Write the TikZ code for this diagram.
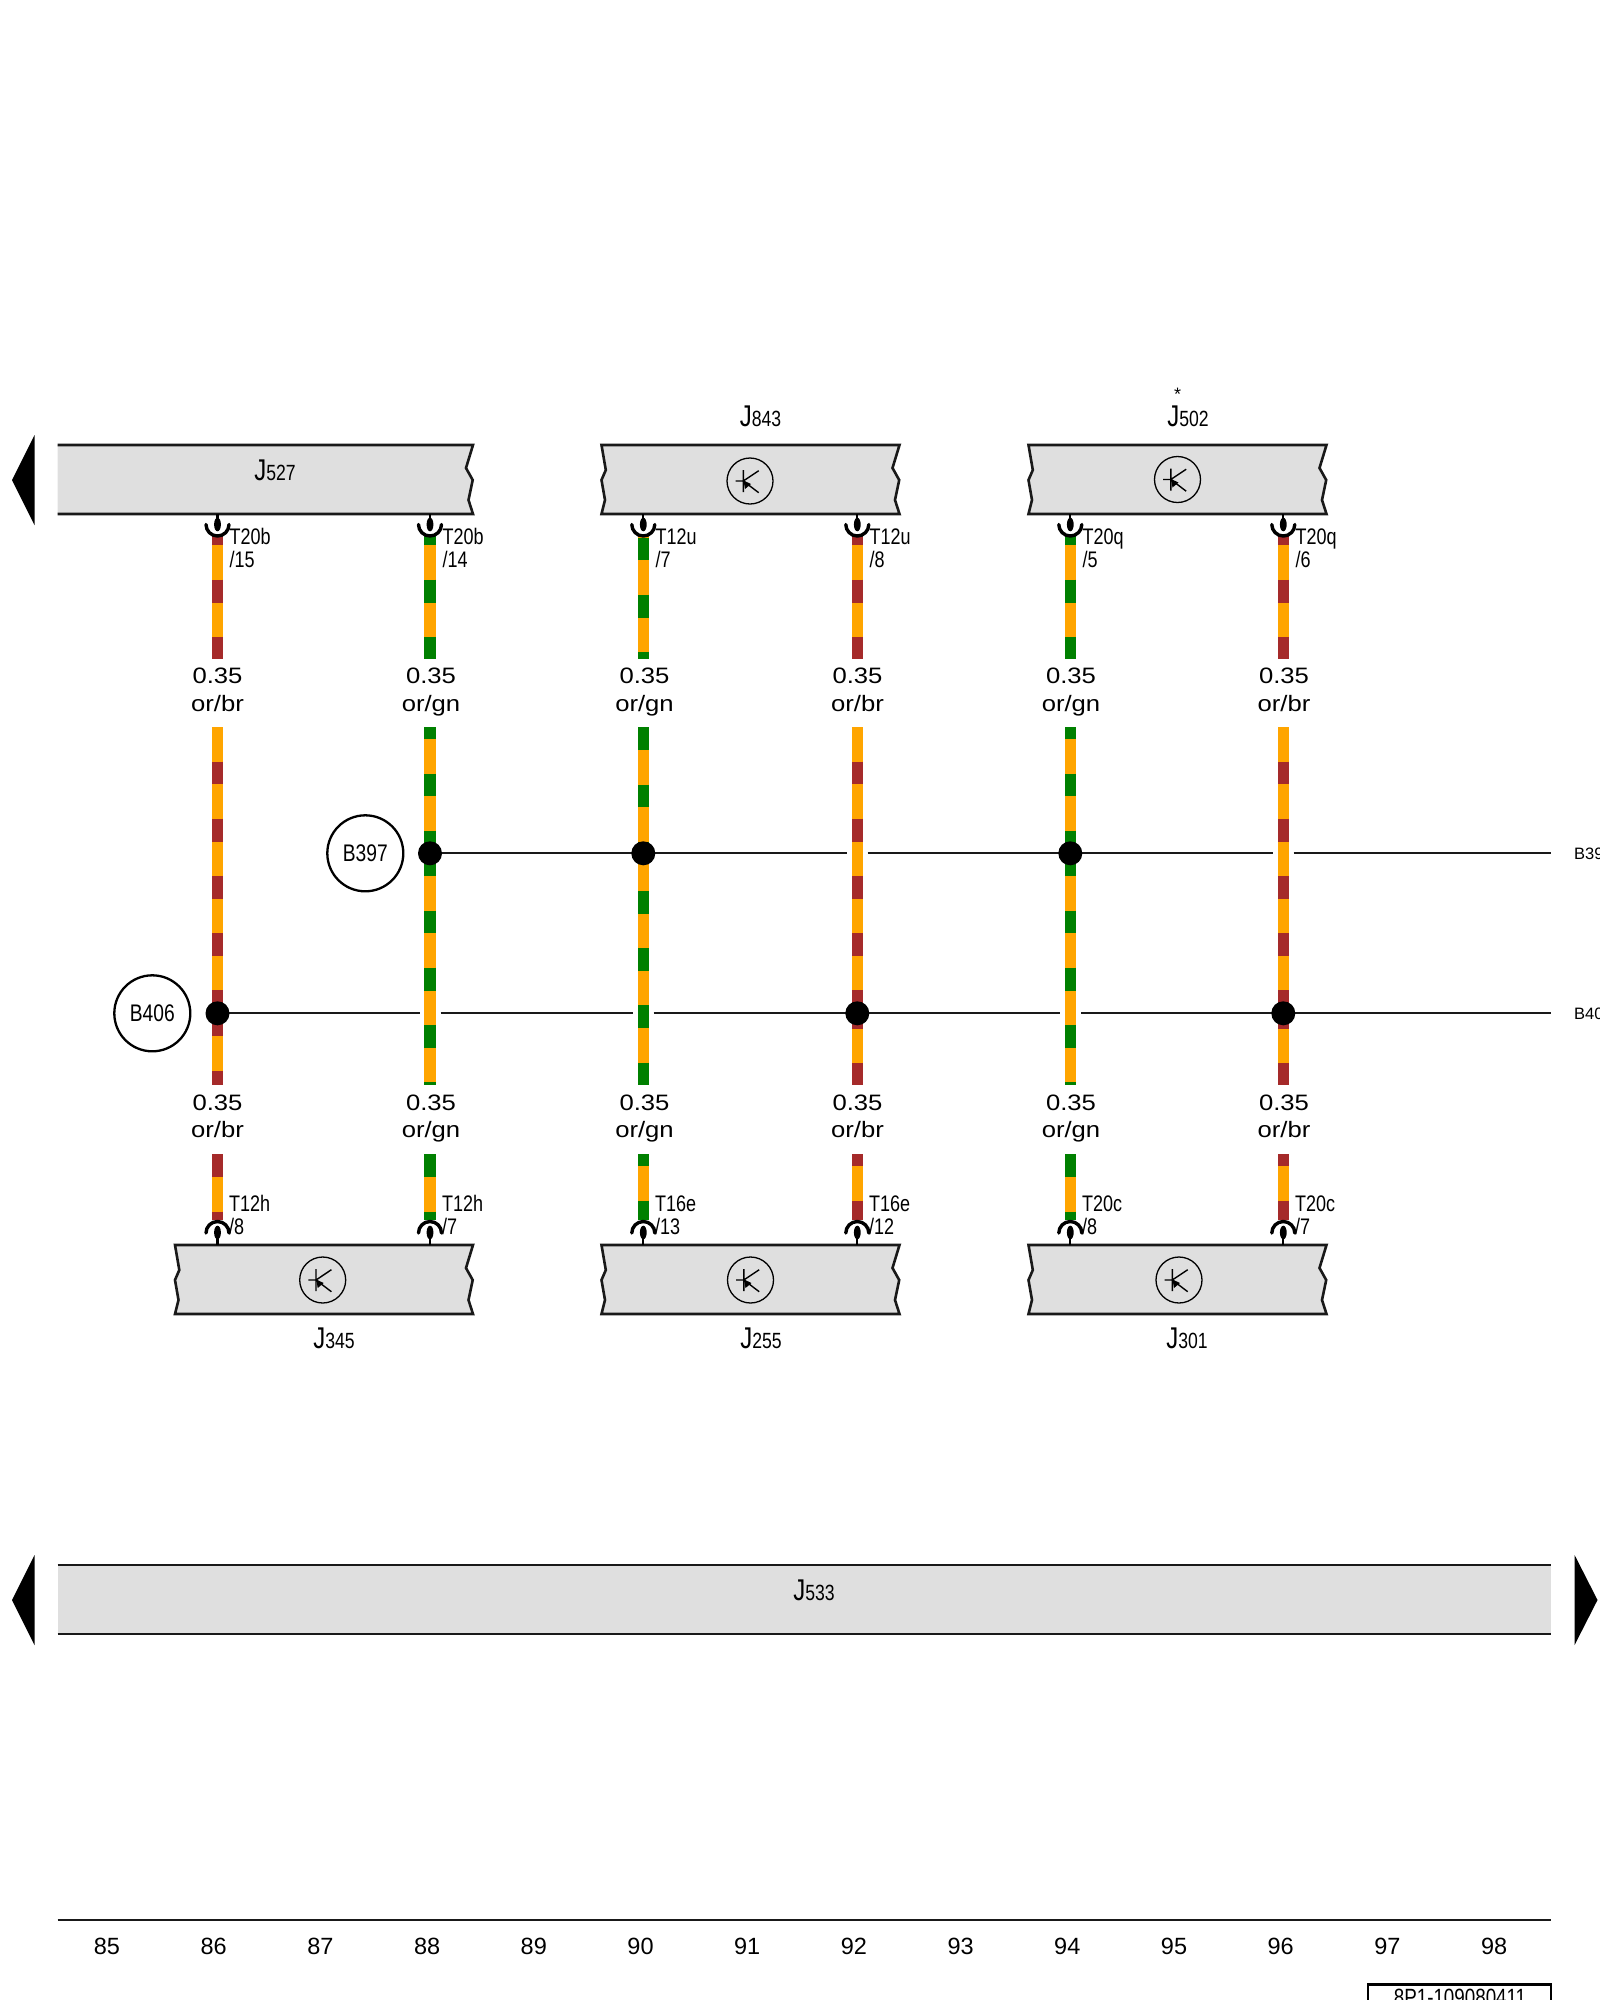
\documentclass[tikz,border=0pt]{standalone}
\usepackage{fontspec}
\setmainfont{Liberation Sans}
\newfontfamily\narrowfont[FakeStretch=0.8]{Liberation Sans}
\newfontfamily\widefont[FakeStretch=1.15]{Liberation Sans}
\newcommand{\bigJ}{{\narrowfont\fontsize{30}{30}\selectfont J}}
\definecolor{wireor}{HTML}{FFA500}
\definecolor{wirebr}{HTML}{A52A2A}
\definecolor{wiregn}{HTML}{008000}
\definecolor{ecugray}{HTML}{DFDFDF}
\begin{document}
\begin{tikzpicture}[
  x=1pt, y=-1pt,
  orbr/.style={draw=wireor, line width=11.6pt, postaction={draw=wirebr, dash pattern=on 22.9pt off 34.3pt, dash phase=#1pt}},
  orgn/.style={draw=wireor, line width=11.6pt, postaction={draw=wiregn, dash pattern=on 22.9pt off 34.3pt, dash phase=#1pt}},
  bus/.style={draw=black!90, line width=2.3pt},
  ecu/.style={draw=black!90, line width=2.6pt, fill=ecugray},
  ecuedge/.style={draw=black!90, line width=2.6pt},
  splice/.style={circle, fill=black, inner sep=0pt, minimum size=24pt},
  busmark/.style={circle, draw=black, line width=2.3pt, inner sep=0pt, minimum size=76pt, font=\narrowfont\fontsize{24}{24}\selectfont},
  wirelabel/.style={anchor=base, align=center, inner sep=0pt, font=\widefont\fontsize{22.3}{27.5}\selectfont},
  pinlabel/.style={anchor=base west, align=left, inner sep=0pt, font=\narrowfont\fontsize{22.5}{22.8}\selectfont},
  ecuname/.style={anchor=base, inner sep=0pt, font=\narrowfont\fontsize{22}{22}\selectfont},
  busname/.style={anchor=base west, inner sep=0pt, font=\fontsize{16.5}{16.5}\selectfont},
  tick/.style={anchor=base, inner sep=0pt, font=\fontsize{23.5}{23.5}\selectfont},
  topplug/.pic={
    \draw[line width=2.3pt] (0,0) -- (0,6);
    \fill (0,10.5) ellipse [x radius=3.4, y radius=6.8];
    \draw[line width=3.4pt, line cap=round] (-11.5,10.5) arc[start angle=180, end angle=0, radius=11.5];
  },
  botplug/.pic={
    \draw[line width=2.3pt] (0,0) -- (0,-6);
    \fill (0,-12.5) ellipse [x radius=3.4, y radius=6.8];
    \draw[line width=3.4pt, line cap=round] (-11.5,-12) arc[start angle=180, end angle=360, radius=11.5];
  },
  ecubox/.pic={
    \draw[ecu] (0,0) -- (298,0) -- (291,23) -- (297.7,35) -- (293.5,55) -- (298,69) -- (0,69) -- (3.5,55) -- (0,35) -- (4.3,25) -- cycle;
  },
  fetmark/.pic={
    \draw[line width=1.3pt] (0,0) circle [radius=23];
    \draw[line width=1.4pt] (-14.3,0) -- (-6.7,0) (-6.7,-11) -- (-6.7,11) (-6.7,0) -- (8.7,-10.3) (-6.7,0) -- (8.7,11.7);
    \fill (-6.5,-0.5) -- (1,3) -- (-5,8) -- cycle;
  }
]
\clip (0,0) rectangle (1600,2000);

% Wire ends
\coordinate (w1a) at (217.5,536);  \coordinate (w1b) at (217.5,659.3);
\coordinate (w2a) at (430,536);    \coordinate (w2b) at (430,659.3);
\coordinate (w3a) at (643.3,536);  \coordinate (w3b) at (643.3,659.3);
\coordinate (w4a) at (857.3,536);  \coordinate (w4b) at (857.3,659.3);
\coordinate (w5a) at (1070.3,536); \coordinate (w5b) at (1070.3,659.3);
\coordinate (w6a) at (1283.3,536); \coordinate (w6b) at (1283.3,659.3);

\coordinate (w1c) at (217.5,727.3);  \coordinate (w1d) at (217.5,1085.3);
\coordinate (w2c) at (430,727.3);    \coordinate (w2d) at (430,1085.3);
\coordinate (w3c) at (643.3,727.3);  \coordinate (w3d) at (643.3,1085.3);
\coordinate (w4c) at (857.3,727.3);  \coordinate (w4d) at (857.3,1085.3);
\coordinate (w5c) at (1070.3,727.3); \coordinate (w5d) at (1070.3,1085.3);
\coordinate (w6c) at (1283.3,727.3); \coordinate (w6d) at (1283.3,1085.3);

\coordinate (w1e) at (217.5,1154.3);  \coordinate (w1f) at (217.5,1220);
\coordinate (w2e) at (430,1154.3);    \coordinate (w2f) at (430,1220);
\coordinate (w3e) at (643.3,1154.3);  \coordinate (w3f) at (643.3,1220);
\coordinate (w4e) at (857.3,1154.3);  \coordinate (w4f) at (857.3,1220);
\coordinate (w5e) at (1070.3,1154.3); \coordinate (w5f) at (1070.3,1220);
\coordinate (w6e) at (1283.3,1154.3); \coordinate (w6f) at (1283.3,1220);

% Splice points
\coordinate (j397a) at (430,853.3);
\coordinate (j397b) at (643.3,853.3);
\coordinate (j397c) at (1070.3,853.3);
\coordinate (j406a) at (217.5,1013.3);
\coordinate (j406b) at (857.3,1013.3);
\coordinate (j406c) at (1283.3,1013.3);

% Upper wires
\draw[orbr=13.5] (w1a) -- (w1b);
\draw[orgn=13.5] (w2a) -- (w2b);
\draw[orgn=55.7] (w3a) -- (w3b);
\draw[orbr=13.5] (w4a) -- (w4b);
\draw[orgn=13.5] (w5a) -- (w5b);
\draw[orbr=13.5] (w6a) -- (w6b);

% Middle wires
\draw[orbr=23] (w1c) -- (j406a);
\draw[orbr=0] (j406a) -- (w1d);
\draw[orgn=11] (w2c) -- (j397a);
\draw[orgn=0] (j397a) -- (w2d);
\draw[orgn=0] (w3c) -- (j397b);
\draw[orgn=19.5] (j397b) -- (w3d);
\draw[orbr=23] (w4c) -- (j406b);
\draw[orbr=7.6] (j406b) -- (w4d);
\draw[orgn=11] (w5c) -- (j397c);
\draw[orgn=0] (j397c) -- (w5d);
\draw[orbr=23] (w6c) -- (j406c);
\draw[orbr=7.6] (j406c) -- (w6d);

% Lower wires
\draw[orbr=0] (w1e) -- (w1f);
\draw[orgn=0] (w2e) -- (w2f);
\draw[orgn=11] (w3e) -- (w3f);
\draw[orbr=11] (w4e) -- (w4f);
\draw[orgn=0] (w5e) -- (w5f);
\draw[orbr=11] (w6e) -- (w6f);

% Bus lines
\coordinate (g397a) at (847.2,853.3);   \coordinate (g397b) at (867.6,853.3);
\coordinate (g397c) at (1273.1,853.3);  \coordinate (g397d) at (1293.6,853.3);
\coordinate (e397) at (1551,853.3);
\coordinate (g406a) at (420,1013.3);    \coordinate (g406b) at (440.6,1013.3);
\coordinate (g406c) at (633,1013.3);    \coordinate (g406d) at (653.7,1013.3);
\coordinate (g406e) at (1060,1013.3);   \coordinate (g406f) at (1081,1013.3);
\coordinate (e406) at (1551,1013.3);

\draw[bus] (j397a) -- (g397a);
\draw[bus] (g397b) -- (g397c);
\draw[bus] (g397d) -- (e397);
\draw[bus] (j406a) -- (g406a);
\draw[bus] (g406b) -- (g406c);
\draw[bus] (g406d) -- (g406e);
\draw[bus] (g406f) -- (e406);

\node[splice] (s397a) at (j397a) {};
\node[splice] (s397b) at (j397b) {};
\node[splice] (s397c) at (j397c) {};
\node[splice] (s406a) at (j406a) {};
\node[splice] (s406b) at (j406b) {};
\node[splice] (s406c) at (j406c) {};

\node[busmark] (b397) at (365.3,853.3) {B397};
\node[busmark] (b406) at (152.3,1013.3) {B406};
\node[busname] (n397) at (1574,859.3) {B397};
\node[busname] (n406) at (1574,1019.3) {B406};

% Control units, top row
\fill[ecugray] (57.5,445) -- (473,445) -- (466,468) -- (472.7,480) -- (468.5,500) -- (473,514) -- (57.5,514) -- cycle;
\draw[ecuedge] (57.5,445) -- (473,445) -- (466,468) -- (472.7,480) -- (468.5,500) -- (473,514) -- (57.5,514);
\pic at (601.5,445) {ecubox};
\pic at (1028.5,445) {ecubox};
\pic at (750,481) {fetmark};
\pic at (1177.5,479.5) {fetmark};

\node[ecuname] (j527) at (275,480) {\bigJ 527};
\node[ecuname] (j843) at (760.5,426) {\bigJ 843};
\node[ecuname] (j502) at (1188,426) {\bigJ 502};
\node[anchor=base, inner sep=0pt, font=\fontsize{18}{18}\selectfont] (star) at (1177.7,400) {*};

% Control units, bottom row
\pic at (175,1245) {ecubox};
\pic at (601.5,1245) {ecubox};
\pic at (1028.5,1245) {ecubox};
\pic at (322.7,1280) {fetmark};
\pic at (750.5,1280) {fetmark};
\pic at (1179,1280) {fetmark};

\node[ecuname] (j345) at (334,1348) {\bigJ 345};
\node[ecuname] (j255) at (761,1348) {\bigJ 255};
\node[ecuname] (j301) at (1187,1348) {\bigJ 301};

% Gateway
\fill[ecugray] (57.5,1565) rectangle (1551,1634);
\draw[ecuedge] (57.5,1565) -- (1551,1565);
\draw[ecuedge] (57.5,1634) -- (1551,1634);
\node[ecuname] (j533) at (814,1600) {\bigJ 533};

% Sheet arrows
\fill (34.5,435) -- (12,480) -- (34.5,525) -- cycle;
\fill (34.5,1555) -- (12,1600) -- (34.5,1645) -- cycle;
\fill (1574.6,1555) -- (1597.5,1600) -- (1574.6,1645) -- cycle;

% Plugs
\pic at (217.5,514) {topplug};
\pic at (430,514) {topplug};
\pic at (643.3,514) {topplug};
\pic at (857.3,514) {topplug};
\pic at (1070.3,514) {topplug};
\pic at (1283.3,514) {topplug};
\pic at (217.5,1245) {botplug};
\pic at (430,1245) {botplug};
\pic at (643.3,1245) {botplug};
\pic at (857.3,1245) {botplug};
\pic at (1070.3,1245) {botplug};
\pic at (1283.3,1245) {botplug};

% Pin labels
\node[pinlabel] (p1) at (229.5,567.7) {T20b\\/15};
\node[pinlabel] (p2) at (442.5,567.7) {T20b\\/14};
\node[pinlabel] (p3) at (655.5,567.7) {T12u\\/7};
\node[pinlabel] (p4) at (869.5,567.7) {T12u\\/8};
\node[pinlabel] (p5) at (1082.5,567.7) {T20q\\/5};
\node[pinlabel] (p6) at (1295.5,567.7) {T20q\\/6};
\node[pinlabel] (p7) at (229,1234) {T12h\\/8};
\node[pinlabel] (p8) at (442,1234) {T12h\\/7};
\node[pinlabel] (p9) at (655,1234) {T16e\\/13};
\node[pinlabel] (p10) at (869,1234) {T16e\\/12};
\node[pinlabel] (p11) at (1082,1234) {T20c\\/8};
\node[pinlabel] (p12) at (1295,1234) {T20c\\/7};

% Wire labels
\node[wirelabel] (l1) at (217.5,711) {0.35\\or/br};
\node[wirelabel] (l2) at (431,711) {0.35\\or/gn};
\node[wirelabel] (l3) at (644.5,711) {0.35\\or/gn};
\node[wirelabel] (l4) at (857.5,711) {0.35\\or/br};
\node[wirelabel] (l5) at (1071,711) {0.35\\or/gn};
\node[wirelabel] (l6) at (1284,711) {0.35\\or/br};
\node[wirelabel] (l7) at (217.5,1137.6) {0.35\\or/br};
\node[wirelabel] (l8) at (431,1137.6) {0.35\\or/gn};
\node[wirelabel] (l9) at (644.5,1137.6) {0.35\\or/gn};
\node[wirelabel] (l10) at (857.5,1137.6) {0.35\\or/br};
\node[wirelabel] (l11) at (1071,1137.6) {0.35\\or/gn};
\node[wirelabel] (l12) at (1284,1137.6) {0.35\\or/br};

% Track numbers
\draw[bus] (57.5,1920.3) -- (1551,1920.3);
\node[tick] (t85) at (107,1954) {85};
\node[tick, right of=t85, node distance=106.7pt] (t86) {86};
\node[tick, right of=t86, node distance=106.7pt] (t87) {87};
\node[tick, right of=t87, node distance=106.7pt] (t88) {88};
\node[tick, right of=t88, node distance=106.7pt] (t89) {89};
\node[tick, right of=t89, node distance=106.7pt] (t90) {90};
\node[tick, right of=t90, node distance=106.7pt] (t91) {91};
\node[tick, right of=t91, node distance=106.7pt] (t92) {92};
\node[tick, right of=t92, node distance=106.7pt] (t93) {93};
\node[tick, right of=t93, node distance=106.7pt] (t94) {94};
\node[tick, right of=t94, node distance=106.7pt] (t95) {95};
\node[tick, right of=t95, node distance=106.7pt] (t96) {96};
\node[tick, right of=t96, node distance=106.7pt] (t97) {97};
\node[tick, right of=t97, node distance=106.7pt] (t98) {98};

% Sheet number
\draw[line width=2.3pt] (1368,2010) -- (1368,1984.5) -- (1551,1984.5) -- (1551,2010);
\node[anchor=base, inner sep=0pt, font=\narrowfont\fontsize{23.5}{23.5}\selectfont] (sheet) at (1460,2005) {8P1-109080411};

\end{tikzpicture}
\end{document}
